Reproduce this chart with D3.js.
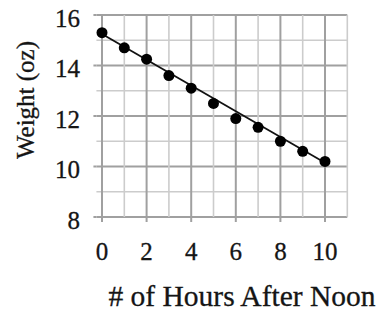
<!DOCTYPE html>
<meta charset="utf-8">
<style>
  body { margin: 0; background: #fff; }
  svg { display: block; font-family: "Liberation Serif", "Times New Roman", serif; }
  .tick-label { font-size: 25px; fill: #151515; stroke: #151515; stroke-width: 0.3px; }
  .axis-title { fill: #151515; stroke: #151515; stroke-width: 0.3px; }
</style>
<body>
<script src="https://cdn.jsdelivr.net/npm/d3@7"></script>
<script>
// data
var hours = [0, 1, 2, 3, 4, 5, 6, 7, 8, 9, 10];
var weights = [15.3, 14.7, 14.25, 13.6, 13.1, 12.5, 11.9, 11.55, 11.0, 10.6, 10.2];
var fitLine = [[0, 15.25], [10, 10.15]];
var xTicks = [0, 2, 4, 6, 8, 10];
var yTicks = [8, 10, 12, 14, 16];

var width = 379, height = 313;

var x = d3.scaleLinear().domain([0, 10]).range([102, 325]);
var y = d3.scaleLinear().domain([8, 16]).range([217, 15]);

var svg = d3.select("body").append("svg")
    .attr("width", width)
    .attr("height", height);

// grid: every unit, darker on even values
var grid = svg.append("g");
d3.range(8, 16.01, 1).forEach(function(v) {
  grid.append("line")
    .attr("x1", x(-0.25)).attr("x2", x(11))
    .attr("y1", y(v)).attr("y2", y(v))
    .attr("stroke", v % 2 === 0 ? "#a0a0a0" : "#cccccc")
    .attr("stroke-width", v % 2 === 0 ? 2 : 1.6);
});
d3.range(0, 11.01, 1).forEach(function(v) {
  grid.append("line")
    .attr("x1", x(v)).attr("x2", x(v))
    .attr("y1", y(16)).attr("y2", y(8) + (v % 2 === 0 && v <= 10 ? 5 : 0))
    .attr("stroke", v % 2 === 0 ? "#a0a0a0" : "#cccccc")
    .attr("stroke-width", v % 2 === 0 ? 2 : 1.6);
});
// left y ticks
yTicks.forEach(function(v) {
  grid.append("line")
    .attr("x1", x(-0.25) - 3).attr("x2", x(-0.25))
    .attr("y1", y(v)).attr("y2", y(v))
    .attr("stroke", "#a0a0a0").attr("stroke-width", 2);
});

// tick labels
svg.append("g").selectAll("text")
  .data(yTicks)
  .join("text")
    .attr("class", "tick-label")
    .attr("x", 80)
    .attr("y", function(d) { return y(d); })
    .attr("dy", "0.46em")
    .attr("text-anchor", "end")
    .text(function(d) { return d; });

svg.append("g").selectAll("text")
  .data(xTicks)
  .join("text")
    .attr("class", "tick-label")
    .attr("x", function(d) { return x(d); })
    .attr("y", 260)
    .attr("text-anchor", "middle")
    .text(function(d) { return d; });

// fitted line
svg.append("path")
  .datum(fitLine)
  .attr("fill", "none")
  .attr("stroke", "#111")
  .attr("stroke-width", 1.8)
  .attr("d", d3.line()
      .x(function(d) { return x(d[0]); })
      .y(function(d) { return y(d[1]); }));

// points
svg.append("g").selectAll("circle")
  .data(hours)
  .join("circle")
    .attr("cx", function(d) { return x(d); })
    .attr("cy", function(d, i) { return y(weights[i]); })
    .attr("r", 5.5)
    .attr("fill", "#000");

// axis titles
svg.append("text")
  .attr("class", "axis-title")
  .attr("x", 242)
  .attr("y", 306)
  .attr("text-anchor", "middle")
  .style("font-size", "29.5px")
  .text("# of Hours After Noon");

svg.append("text")
  .attr("class", "axis-title")
  .attr("transform", "translate(34,100) rotate(-90)")
  .attr("text-anchor", "middle")
  .style("font-size", "25px")
  .text("Weight (oz)");
</script>
</body>
